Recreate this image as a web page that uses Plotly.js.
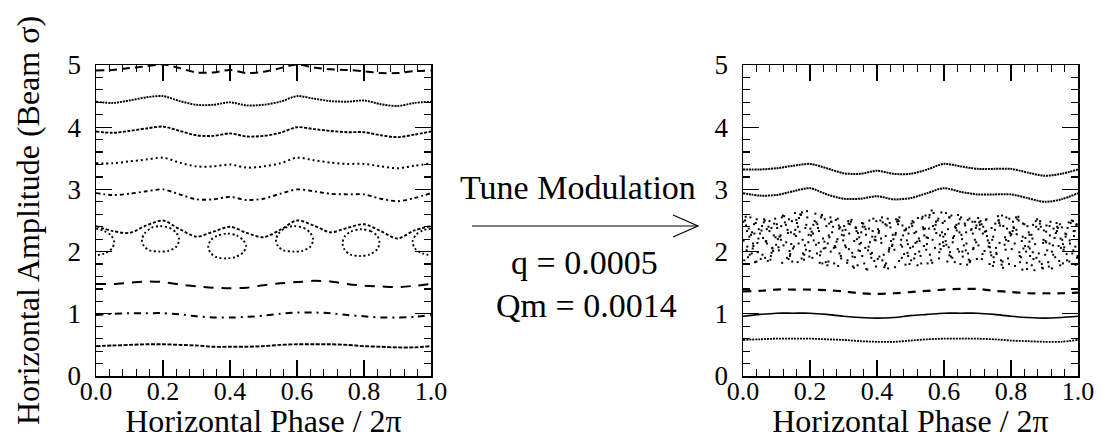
<!DOCTYPE html>
<html>
<head>
<meta charset="utf-8">
<script src="https://cdn.plot.ly/plotly-3.0.1.min.js"></script>
<style>html,body{margin:0;padding:0;background:#fff;}#chart{width:1111px;height:439px;}</style>
</head>
<body>
<div id="chart"></div>
<script>
// ---------------- data ----------------
const phase = [0,0.05,0.1,0.15,0.2,0.25,0.3,0.35,0.4,0.45,0.5,0.55,0.6,0.65,0.7,0.75,0.8,0.85,0.9,0.95,1.0];

// left panel (no modulation) invariant curves
const leftA = [4.91,4.92,4.95,4.98,5.01,4.95,4.88,4.88,4.92,4.87,4.89,4.95,5.01,4.96,4.93,4.92,4.90,4.87,4.87,4.90,4.91];
const leftB = [4.41,4.39,4.43,4.48,4.50,4.42,4.36,4.36,4.40,4.35,4.36,4.41,4.50,4.46,4.42,4.41,4.43,4.37,4.34,4.39,4.41];
const leftC = [3.93,3.91,3.94,3.98,4.01,3.94,3.87,3.86,3.90,3.85,3.86,3.91,4.00,3.97,3.94,3.92,3.92,3.87,3.84,3.88,3.93];
const leftD = [3.42,3.42,3.45,3.48,3.51,3.43,3.37,3.37,3.40,3.35,3.37,3.42,3.51,3.47,3.43,3.41,3.41,3.37,3.34,3.38,3.42];
const leftE = [2.94,2.91,2.93,2.97,3.00,2.92,2.84,2.84,2.88,2.83,2.85,2.93,3.00,2.97,2.93,2.92,2.92,2.85,2.81,2.86,2.94];
const leftF = [2.41,2.33,2.30,2.42,2.50,2.36,2.24,2.32,2.40,2.30,2.23,2.35,2.50,2.42,2.31,2.38,2.44,2.33,2.21,2.34,2.41];
const leftG = [1.48,1.48,1.50,1.52,1.51,1.47,1.44,1.42,1.41,1.42,1.46,1.49,1.51,1.53,1.52,1.48,1.45,1.44,1.43,1.45,1.48];
const leftH = [0.98,1.00,1.01,1.01,1.01,0.99,0.96,0.94,0.94,0.95,0.97,1.00,1.02,1.02,1.01,0.98,0.96,0.94,0.94,0.95,0.98];
const leftI = [0.48,0.49,0.50,0.51,0.51,0.50,0.49,0.47,0.47,0.47,0.48,0.50,0.51,0.51,0.51,0.50,0.48,0.47,0.46,0.46,0.48];

// resonance islands (closed curves)
const island1X = [0.19,0.22,0.24,0.248,0.24,0.215,0.19,0.16,0.143,0.137,0.145,0.165,0.19];
const island1Y = [2.41,2.38,2.30,2.19,2.08,2.01,2.00,2.02,2.09,2.19,2.29,2.38,2.41];
const island2X = [0.39,0.42,0.44,0.448,0.44,0.415,0.39,0.36,0.342,0.335,0.342,0.36,0.39];
const island2Y = [2.29,2.26,2.18,2.09,1.99,1.91,1.89,1.91,1.98,2.08,2.18,2.25,2.29];
const island3X = [0.59,0.62,0.64,0.648,0.64,0.615,0.59,0.56,0.543,0.537,0.545,0.565,0.59];
const island3Y = [2.41,2.38,2.30,2.19,2.08,2.01,2.00,2.02,2.09,2.19,2.29,2.38,2.41];
const island4X = [0.79,0.82,0.84,0.846,0.84,0.815,0.79,0.76,0.742,0.736,0.742,0.76,0.79];
const island4Y = [2.36,2.33,2.25,2.15,2.04,1.95,1.93,1.95,2.03,2.13,2.24,2.32,2.36];
const island5aX = [0,0.025,0.045,0.054,0.048,0.025,0];
const island5aY = [2.37,2.33,2.26,2.16,2.05,1.97,1.94];
const island5bX = [1.0,0.975,0.955,0.945,0.952,0.975,1.0];
const island5bY = [2.37,2.34,2.27,2.16,2.05,1.97,1.94];

// right panel (with tune modulation)
const rightR1 = [3.32,3.32,3.34,3.38,3.41,3.34,3.26,3.25,3.30,3.25,3.25,3.32,3.41,3.37,3.33,3.33,3.33,3.27,3.22,3.25,3.32];
const rightR2 = [2.94,2.90,2.91,2.97,3.02,2.92,2.85,2.85,2.89,2.84,2.86,2.94,3.02,2.96,2.92,2.92,2.92,2.86,2.80,2.84,2.94];
const rightR3 = [1.36,1.37,1.39,1.39,1.39,1.38,1.36,1.33,1.32,1.33,1.35,1.37,1.39,1.40,1.40,1.37,1.35,1.33,1.33,1.33,1.34];
const rightR4 = [0.96,0.99,1.01,1.01,1.01,0.99,0.96,0.94,0.93,0.94,0.97,0.99,1.01,1.01,1.01,0.99,0.96,0.94,0.93,0.94,0.96];
const rightR5 = [0.58,0.59,0.60,0.60,0.60,0.59,0.58,0.56,0.55,0.55,0.57,0.59,0.60,0.60,0.60,0.59,0.57,0.56,0.55,0.55,0.58];

// chaotic band points, first set
const chaosX = [
.027,.004,.041,.013,.033,.020,.046,.008,.036,.017,.030,.001,.044,.024,.011,
.062,.088,.053,.079,.096,.068,.083,.057,.092,.074,.065,.099,.071,.085,.060,
.144,.116,.131,.102,.139,.125,.109,.147,.119,.134,.106,.128,.141,.113,.137,
.156,.182,.171,.195,.161,.188,.176,.153,.198,.167,.185,.164,.191,.179,.158,
.235,.211,.247,.222,.205,.241,.216,.230,.201,.244,.226,.237,.209,.219,.232,
.269,.293,.258,.283,.274,.252,.297,.264,.288,.279,.261,.295,.255,.286,.271,
.340,.314,.328,.306,.345,.319,.334,.301,.324,.348,.311,.337,.316,.331,.343,
.359,.381,.396,.368,.389,.353,.375,.392,.363,.386,.371,.398,.356,.379,.366,
.424,.447,.410,.436,.402,.429,.442,.415,.433,.406,.445,.420,.438,.412,.427,
.496,.471,.485,.457,.478,.491,.463,.499,.454,.482,.467,.489,.474,.460,.494,
.515,.536,.502,.543,.526,.509,.548,.521,.534,.512,.540,.530,.505,.545,.519,
.581,.558,.594,.569,.587,.551,.575,.598,.563,.590,.572,.556,.585,.566,.596,
.603,.642,.618,.633,.610,.647,.626,.638,.606,.621,.644,.614,.630,.649,.617,
.688,.663,.676,.698,.654,.681,.669,.693,.659,.686,.672,.651,.695,.665,.678,
.722,.746,.709,.735,.717,.741,.702,.728,.749,.712,.733,.706,.739,.725,.744,
.761,.784,.797,.770,.753,.792,.776,.764,.788,.757,.799,.773,.781,.794,.767,
.843,.806,.830,.816,.848,.822,.837,.801,.827,.840,.811,.834,.819,.845,.809,
.867,.889,.855,.895,.874,.861,.883,.898,.870,.852,.886,.864,.892,.878,.857,
.934,.902,.946,.925,.913,.940,.908,.930,.918,.944,.905,.937,.922,.949,.915,
.955,.978,.993,.962,.986,.969,.997,.953,.981,.974,.990,.959,.995,.966,.988];
const chaosY = [
2.31,1.86,2.52,2.08,2.44,1.95,2.21,2.56,1.83,2.37,2.13,2.48,1.99,2.27,2.02,
2.47,2.05,1.88,2.33,2.53,2.16,1.93,2.41,2.26,1.85,2.50,2.11,2.36,1.98,2.22,
2.12,2.55,1.90,2.38,2.01,2.47,2.24,1.84,2.58,2.30,2.07,2.43,1.96,2.19,2.52,
2.35,1.87,2.60,2.15,2.46,2.03,2.63,2.28,1.92,2.54,2.10,2.40,2.65,1.97,2.25,
2.58,2.18,1.83,2.44,2.32,2.05,2.61,1.94,2.37,2.52,2.14,1.81,2.29,2.47,2.00,
2.40,1.89,2.23,2.53,2.09,1.78,2.34,2.48,1.97,2.16,2.55,2.27,1.84,2.42,2.06,
2.20,2.49,1.76,2.35,2.02,2.44,1.91,2.26,2.51,2.12,1.82,2.38,2.04,1.74,2.30,
2.45,1.96,2.18,1.72,2.53,2.31,2.08,1.85,2.40,2.24,1.71,2.49,1.93,2.15,2.36,
1.78,2.27,2.50,2.03,1.88,2.42,2.17,2.55,1.73,2.33,2.09,1.95,2.46,2.21,1.81,
2.39,2.11,1.79,2.52,2.26,1.98,2.44,2.06,1.75,2.34,2.55,2.18,1.90,2.48,2.29,
2.14,2.56,1.86,2.37,2.00,2.47,2.23,1.78,2.53,2.30,2.09,1.93,2.41,2.58,2.16,
2.50,1.95,2.31,2.62,2.12,1.81,2.43,2.24,2.66,2.04,2.36,2.55,1.89,2.19,2.46,
2.28,2.59,1.99,2.40,1.84,2.52,2.15,2.34,2.62,1.92,2.45,2.07,2.25,1.80,2.55,
2.06,2.42,2.53,1.88,2.20,2.35,1.79,2.48,2.10,2.29,1.97,2.55,2.38,2.02,1.85,
2.32,1.77,2.49,2.14,2.40,1.94,2.54,2.25,1.83,2.44,2.08,2.36,1.99,2.51,2.19,
2.57,2.03,2.30,1.86,2.45,2.17,1.74,2.50,2.37,1.96,2.26,2.58,2.11,1.80,2.42,
2.22,2.48,1.91,2.35,1.72,2.56,2.05,2.28,1.83,2.44,2.13,1.71,2.52,2.00,2.38,
1.88,2.40,2.16,1.73,2.49,2.27,1.97,2.34,1.70,2.08,2.45,2.21,1.80,2.52,1.93,
2.30,1.95,2.44,2.10,1.76,2.38,2.02,2.22,2.48,1.85,2.15,2.33,1.73,2.06,2.41,
2.12,2.46,1.79,2.29,2.02,2.38,1.90,2.19,2.50,1.84,2.33,2.07,2.43,1.96,2.25];

// chaotic band points, second set
const chaosX2 = [
.002,.009,.015,.022,.029,.034,.040,.047,.006,.019,.026,.038,.043,.012,.031,
.051,.058,.063,.069,.076,.082,.087,.093,.097,.055,.066,.072,.079,.090,.085,
.101,.107,.112,.117,.123,.129,.133,.140,.146,.104,.114,.121,.136,.143,.149,
.152,.159,.163,.169,.173,.178,.183,.189,.196,.155,.166,.175,.186,.192,.199,
.203,.207,.214,.218,.224,.229,.233,.239,.246,.210,.221,.227,.236,.243,.249,
.253,.257,.262,.266,.272,.277,.282,.287,.292,.256,.263,.276,.284,.290,.299,
.302,.307,.312,.317,.322,.326,.332,.336,.342,.347,.305,.315,.327,.339,.349,
.352,.357,.362,.367,.373,.377,.383,.387,.393,.397,.355,.365,.376,.385,.395,
.403,.407,.413,.417,.422,.426,.432,.435,.440,.446,.405,.416,.425,.437,.449,
.452,.456,.462,.466,.472,.476,.481,.487,.492,.497,.455,.465,.475,.486,.493,
.503,.507,.511,.517,.522,.527,.532,.537,.541,.547,.506,.514,.525,.539,.549,
.552,.557,.562,.567,.573,.577,.583,.586,.592,.597,.555,.565,.576,.588,.599,
.602,.607,.612,.616,.622,.627,.632,.637,.641,.646,.605,.615,.625,.635,.645,
.652,.656,.662,.667,.671,.677,.682,.687,.692,.697,.655,.666,.674,.685,.696,
.703,.707,.713,.716,.721,.727,.731,.736,.742,.747,.705,.715,.726,.737,.748,
.752,.756,.762,.766,.772,.777,.782,.786,.791,.796,.755,.765,.775,.785,.795,
.802,.807,.812,.817,.823,.826,.832,.836,.842,.847,.805,.815,.825,.835,.849,
.853,.856,.862,.866,.872,.876,.882,.887,.893,.897,.855,.865,.875,.885,.896,
.903,.906,.911,.916,.922,.927,.932,.936,.942,.947,.905,.915,.926,.938,.948,
.952,.957,.963,.967,.972,.976,.983,.987,.992,.996,.955,.965,.975,.985,.999];
const chaosY2 = [
2.18,2.42,1.91,2.55,2.05,2.29,1.84,2.36,2.50,2.24,1.97,2.46,2.14,2.33,2.09,
2.29,1.95,2.52,2.17,2.40,1.87,2.06,2.45,2.23,2.34,1.90,2.13,2.49,2.01,2.38,
2.44,2.02,2.26,1.82,2.57,2.15,2.35,1.93,2.49,2.20,2.41,2.10,1.88,2.31,2.05,
2.08,2.51,1.83,2.32,2.59,2.19,1.95,2.43,2.27,2.62,2.13,1.89,2.38,2.55,2.01,
2.26,1.90,2.49,2.11,2.38,1.82,2.55,2.21,2.06,2.43,1.97,2.33,2.59,2.16,2.41,
2.13,2.45,2.00,2.31,1.81,2.51,2.20,2.37,1.93,2.26,2.48,2.07,1.77,2.39,2.18,
2.41,2.07,1.86,2.29,2.48,1.98,2.17,2.39,1.78,2.23,2.10,2.45,1.92,2.33,2.01,
2.14,2.40,1.81,2.27,2.02,2.50,1.90,2.33,2.19,1.76,2.46,2.06,2.37,1.98,2.24,
2.36,1.92,2.14,2.47,1.75,2.25,2.53,2.00,2.39,2.11,2.30,1.86,2.44,2.06,2.20,
2.03,2.30,2.51,1.85,2.19,2.42,1.96,2.37,2.12,1.80,2.27,2.49,2.08,2.35,1.93,
2.45,2.08,1.89,2.32,2.54,2.17,1.81,2.39,2.26,2.03,2.49,1.96,2.21,2.36,2.12,
2.22,2.59,1.86,2.41,2.06,2.30,2.53,1.99,2.63,2.15,2.37,1.82,2.48,2.26,2.09,
2.49,2.11,2.36,1.94,2.58,2.22,1.83,2.43,2.04,2.31,2.17,2.55,1.90,2.38,2.00,
2.27,1.92,2.45,2.13,2.51,1.83,2.36,2.04,2.19,2.42,2.00,2.31,1.87,2.48,2.15,
2.10,2.43,1.88,2.29,2.01,2.52,2.18,1.80,2.38,2.24,2.47,1.96,2.33,2.07,1.91,
2.35,1.98,2.50,2.14,1.79,2.41,2.23,2.55,1.89,2.31,2.06,2.46,1.84,2.19,2.53,
2.04,2.39,1.77,2.28,2.50,1.93,2.17,2.45,2.09,1.82,2.33,2.55,1.99,2.24,2.41,
2.31,2.05,1.78,2.43,2.12,1.90,2.36,2.49,1.74,2.19,2.27,1.99,2.40,1.84,2.14,
2.17,2.42,1.83,2.26,2.00,2.37,1.91,2.46,2.09,1.78,2.32,2.13,1.95,2.40,2.21,
2.39,2.03,2.24,1.86,2.47,2.13,1.97,2.33,2.08,2.44,1.81,2.28,2.18,2.49,1.93];

const xTickVals = [0,0.2,0.4,0.6,0.8,1.0];
const xTickText = ['0.0','0.2','0.4','0.6','0.8','1.0'];
const yTickVals = [0,1,2,3,4,5];
const yTickText = ['0','1','2','3','4','5'];

// ---------------- drawing ----------------
const W = 1111, H = 439;
const px = v => v / W;          // pixel -> paper x
const py = v => (H - v) / H;    // pixel -> paper y
const FONT = '"Liberation Serif", "Times New Roman", serif';

function curve(xs, ys, ax, dash, width) {
  return {x: xs, y: ys, xaxis: ax[0], yaxis: ax[1], mode: 'lines', type: 'scatter',
          hoverinfo: 'skip', showlegend: false,
          line: {color: '#000', width: width, dash: dash, shape: 'spline', smoothing: 0.8}};
}
function dots(xs, ys) {
  return {x: xs, y: ys, xaxis: 'x2', yaxis: 'y2', mode: 'markers', type: 'scatter',
          hoverinfo: 'skip', showlegend: false,
          marker: {color: '#000', size: 2, symbol: 'square', line: {width: 0}}};
}
const L = ['x', 'y'], R = ['x2', 'y2'];

const traces = [
  curve(phase, leftA, L, '8px,5px', 2),
  curve(phase, leftB, L, '2px,1px', 1.9),
  curve(phase, leftC, L, '3px,1.5px', 1.9),
  curve(phase, leftD, L, '2px,3px', 2),
  curve(phase, leftE, L, '4px,3px,2px,3px', 1.9),
  curve(phase, leftF, L, '3px,2px', 1.9),
  curve(island1X, island1Y, L, '2px,2.5px', 1.9),
  curve(island2X, island2Y, L, '2px,2.5px', 1.9),
  curve(island3X, island3Y, L, '2px,2.5px', 1.9),
  curve(island4X, island4Y, L, '2px,2.5px', 1.9),
  curve(island5aX, island5aY, L, '2px,2.5px', 1.9),
  curve(island5bX, island5bY, L, '2px,2.5px', 1.9),
  curve(phase, leftG, L, '10px,8px', 2),
  curve(phase, leftH, L, '7px,5px,2px,5px', 2),
  curve(phase, leftI, L, '4px,1.5px', 1.9),

  curve(phase, rightR1, R, '2px,0.8px', 2),
  curve(phase, rightR2, R, '2px,0.8px', 2),
  dots(chaosX, chaosY),
  dots(chaosX2, chaosY2),
  curve(phase, rightR3, R, '8px,7px', 2.2),
  curve(phase, rightR4, R, 'solid', 1.6),
  curve(phase, rightR5, R, '2px,1px', 1.8)
];

function xAxis(domain, anchor) {
  return {domain: domain, anchor: anchor, range: [0, 1], showgrid: false, zeroline: false,
    showline: true, linecolor: '#000', linewidth: 1.5, mirror: 'ticks',
    ticks: 'inside', ticklen: 16, tickwidth: 1.3, tickcolor: '#000',
    tickvals: xTickVals, ticktext: xTickText, ticklabelstandoff: -9,
    minor: {ticks: 'inside', ticklen: 7, tickwidth: 1.2, tickcolor: '#000', dtick: 0.04, tick0: 0, showgrid: false},
    tickfont: {family: FONT, size: 26, color: '#000'},
    title: {text: 'Horizontal Phase / 2π', font: {family: FONT, size: 32, color: '#000'}, standoff: 3}};
}
function yAxis(anchor, withTitle) {
  const a = {domain: [py(376), py(65)], anchor: anchor, range: [0, 5], showgrid: false, zeroline: false,
    showline: true, linecolor: '#000', linewidth: 1.5, mirror: 'ticks',
    ticks: 'inside', ticklen: 16, tickwidth: 1.3, tickcolor: '#000',
    tickvals: yTickVals, ticktext: yTickText, ticklabelstandoff: 8,
    minor: {ticks: 'inside', ticklen: 7, tickwidth: 1.2, tickcolor: '#000', dtick: 0.2, tick0: 0, showgrid: false},
    tickfont: {family: FONT, size: 27, color: '#000'}};
  if (withTitle) a.title = {text: 'Horizontal Amplitude (Beam σ)', font: {family: FONT, size: 32, color: '#000'}, standoff: 18};
  return a;
}

const arrowY = py(226);
const layout = {
  width: W, height: H, margin: {l: 0, r: 0, t: 0, b: 0},
  paper_bgcolor: '#fff', plot_bgcolor: '#fff', showlegend: false,
  font: {family: FONT, color: '#000'},
  xaxis: xAxis([px(96), px(431)], 'y'),
  yaxis: yAxis('x', true),
  xaxis2: xAxis([px(743), px(1078)], 'y2'),
  yaxis2: yAxis('x2', false),
  annotations: [
    {text: 'Tune Modulation', xref: 'paper', yref: 'paper', x: px(578), y: py(187),
     xanchor: 'center', yanchor: 'middle', showarrow: false, font: {family: FONT, size: 34, color: '#000'}},
    {text: 'q = 0.0005', xref: 'paper', yref: 'paper', x: px(584), y: py(262),
     xanchor: 'center', yanchor: 'middle', showarrow: false, font: {family: FONT, size: 34, color: '#000'}},
    {text: 'Qm = 0.0014', xref: 'paper', yref: 'paper', x: px(586), y: py(305),
     xanchor: 'center', yanchor: 'middle', showarrow: false, font: {family: FONT, size: 34, color: '#000'}}
  ],
  shapes: [
    {type: 'line', xref: 'paper', yref: 'paper', x0: px(472), x1: px(698), y0: arrowY, y1: arrowY,
     line: {color: '#000', width: 1.2}},
    {type: 'path', xref: 'paper', yref: 'paper',
     path: 'M ' + px(673) + ',' + py(215) + ' L ' + px(698) + ',' + arrowY + ' L ' + px(673) + ',' + py(237),
     line: {color: '#000', width: 1.2}}
  ]
};

Plotly.newPlot('chart', traces, layout, {staticPlot: true, displayModeBar: false});
</script>
</body>
</html>
